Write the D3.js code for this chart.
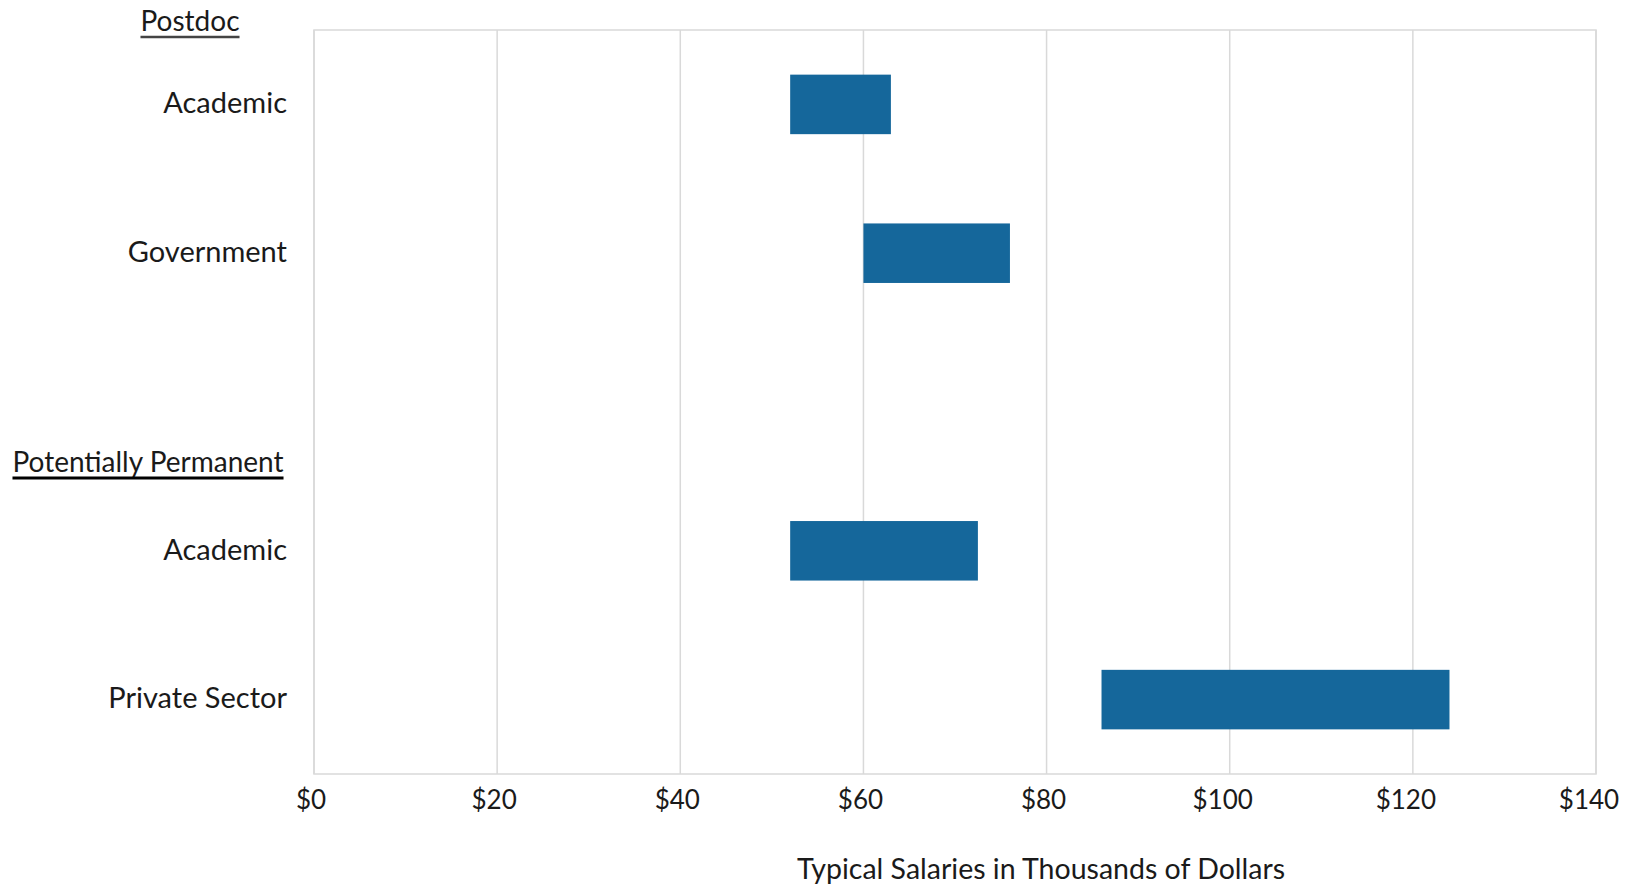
<!DOCTYPE html>
<html>
<head>
<meta charset="utf-8">
<script src="https://cdn.jsdelivr.net/npm/d3@7"></script>
<style>
  html, body { margin: 0; padding: 0; background: #fff; }
  svg text { font-family: Lato, "Open Sans", sans-serif; fill: #1a1a1a; }
</style>
</head>
<body>
<svg id="chart" width="1629" height="885"></svg>
<script>
// ---- data ----
const rowKeys   = ["pd-academic", "pd-government", "gap", "pp-academic", "pp-private"];
const rowLabels = ["Academic", "Government", "", "Academic", "Private Sector"];
const lowValues  = [52, 60, null, 52, 86];
const highValues = [63, 76, null, 72.5, 124];
const groupHeaders = ["Postdoc", "Potentially Permanent"];
const tickValues = [0, 20, 40, 60, 80, 100, 120, 140];
const axisTitle = "Typical Salaries in Thousands of Dollars";

// ---- layout ----
const plot = { left: 314, right: 1596, top: 30, bottom: 774 };
const svg = d3.select("#chart");

const x = d3.scaleLinear().domain([0, 140]).range([plot.left, plot.right]);
const y = d3.scaleBand().domain(rowKeys).range([plot.top, plot.bottom]).paddingInner(0.6).paddingOuter(0.3);

// gridlines
svg.append("g").selectAll("line").data(tickValues).join("line")
  .attr("x1", d => x(d)).attr("x2", d => x(d))
  .attr("y1", plot.top).attr("y2", plot.bottom)
  .attr("stroke", "#d9d9d9").attr("stroke-width", 1.5);

// plot border
svg.append("rect")
  .attr("x", plot.left).attr("y", plot.top)
  .attr("width", plot.right - plot.left).attr("height", plot.bottom - plot.top)
  .attr("fill", "none").attr("stroke", "#d9d9d9").attr("stroke-width", 1.5);

// bars
const rows = rowKeys.map((k, i) => ({ key: k, label: rowLabels[i], lo: lowValues[i], hi: highValues[i] }));
svg.append("g").selectAll("rect").data(rows.filter(r => r.lo != null)).join("rect")
  .attr("x", d => x(d.lo))
  .attr("width", d => x(d.hi) - x(d.lo))
  .attr("y", d => y(d.key))
  .attr("height", y.bandwidth())
  .attr("fill", "#15679b");

// category labels
const bandCenter = k => y(k) + y.bandwidth() / 2;
svg.append("g").selectAll("text").data(rows.filter(r => r.label)).join("text")
  .attr("x", 287)
  .attr("y", d => bandCenter(d.key))
  .attr("dy", "0.3em")
  .attr("text-anchor", "end")
  .style("font-size", "29px")
  .text(d => d.label);

// group headers with underline
const headerPos = [
  { text: groupHeaders[0], x: 190, y: 31, color: "#444", sw: 2.5 },
  { text: groupHeaders[1], x: 148, y: 472, color: "#000", sw: 3 }
];
headerPos.forEach(h => {
  const t = svg.append("text")
    .attr("x", h.x).attr("y", h.y)
    .attr("text-anchor", "middle")
    .style("font-size", "28px")
    .text(h.text);
  const bb = t.node().getBBox();
  svg.append("line")
    .attr("x1", bb.x).attr("x2", bb.x + bb.width)
    .attr("y1", h.y + 6).attr("y2", h.y + 6)
    .attr("stroke", h.color).attr("stroke-width", h.sw);
});

// x tick labels
svg.append("g").selectAll("text").data(tickValues).join("text")
  .attr("x", d => x(d) - (d >= 100 ? 7 : 3))
  .attr("y", 800)
  .attr("dy", "0.35em")
  .attr("text-anchor", "middle")
  .style("font-size", "26px")
  .text(d => "$" + d);

// axis title
svg.append("text")
  .attr("x", 1041).attr("y", 869)
  .attr("dy", "0.35em")
  .attr("text-anchor", "middle")
  .style("font-size", "28.5px")
  .text(axisTitle);
</script>
</body>
</html>
